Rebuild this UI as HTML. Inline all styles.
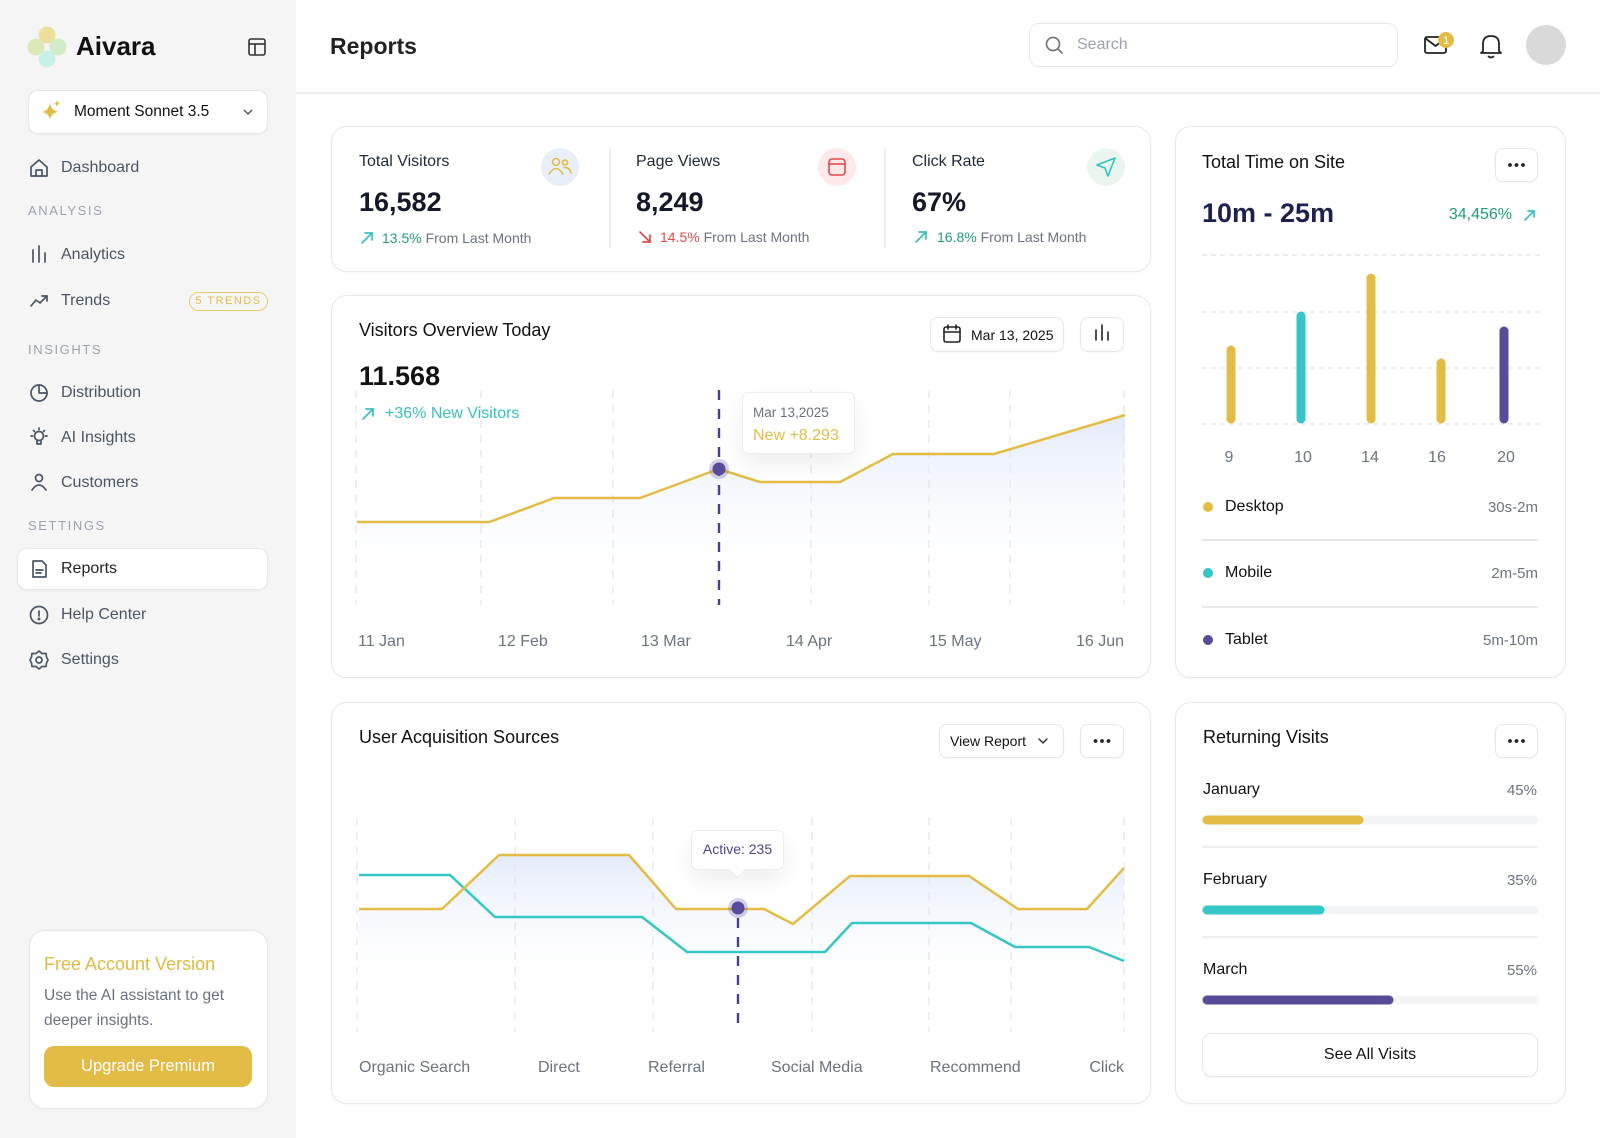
<!DOCTYPE html>
<html><head><meta charset="utf-8">
<style>
*{box-sizing:border-box;margin:0;padding:0}
html,body{width:1600px;height:1138px;overflow:hidden;background:#fff;font-family:"Liberation Sans",Arial,sans-serif;color:#111}
.a{position:absolute}
.t{position:absolute;white-space:nowrap;line-height:20px;z-index:3}
.card{position:absolute;background:#fff;border:1.5px solid #e7e7ea;border-radius:16px;z-index:1;box-shadow:0 1px 3px rgba(0,0,0,0.03)}
.btn{position:absolute;background:#fff;border:1.5px solid #e6e6ea;border-radius:8px;z-index:1;box-shadow:0 1px 2px rgba(0,0,0,0.04)}
.nav{font-size:16px;color:#4b5563}
.sec{font-size:13px;color:#9ca3af;letter-spacing:1.6px}
.xl{font-size:16px;color:#6b7280}
.dv{position:absolute;height:1.5px;z-index:3}
</style></head><body>

<!-- sidebar -->
<div class="a" style="left:0;top:0;width:296px;height:1138px;background:#f5f5f5"></div>
<div class="a" style="left:296px;top:92px;width:1304px;height:1.5px;background:#ececec"></div>

<div class="t" style="left:76px;top:31px;line-height:30px;font-size:26px;font-weight:bold;color:#111">Aivara</div>
<div class="btn" style="left:28px;top:90px;width:240px;height:44px;border-radius:10px;border-color:#e6e6e6"></div>
<div class="t" style="left:74px;top:102px;font-size:15.5px;color:#111">Moment Sonnet 3.5</div>

<div class="t nav" style="left:61px;top:158px">Dashboard</div>
<div class="t sec" style="left:28px;top:201px">ANALYSIS</div>
<div class="t nav" style="left:61px;top:245px">Analytics</div>
<div class="t nav" style="left:61px;top:291px">Trends</div>
<div class="a" style="left:189px;top:292px;width:79px;height:19px;border:1.5px solid #e8cc72;border-radius:10px"></div>
<div class="t" style="left:189px;top:292px;width:79px;line-height:19px;text-align:center;font-size:11px;letter-spacing:1.5px;color:#e3bc45">5 TRENDS</div>
<div class="t sec" style="left:28px;top:340px">INSIGHTS</div>
<div class="t nav" style="left:61px;top:383px">Distribution</div>
<div class="t nav" style="left:61px;top:428px">AI Insights</div>
<div class="t nav" style="left:61px;top:473px">Customers</div>
<div class="t sec" style="left:28px;top:516px">SETTINGS</div>
<div class="btn" style="left:17px;top:548px;width:251px;height:42px;border-radius:10px;border-color:#e8e8e8"></div>
<div class="t nav" style="left:61px;top:559px;color:#222">Reports</div>
<div class="t nav" style="left:61px;top:605px">Help Center</div>
<div class="t nav" style="left:61px;top:650px">Settings</div>

<div class="card" style="left:29px;top:930px;width:239px;height:179px"></div>
<div class="t" style="left:44px;top:953px;line-height:22px;font-size:18px;color:#e0b942">Free Account Version</div>
<div class="t" style="left:44px;top:986px;font-size:15.5px;color:#6b7280">Use the AI assistant to get</div>
<div class="t" style="left:44px;top:1011px;font-size:15.5px;color:#6b7280">deeper insights.</div>
<div class="a" style="left:44px;top:1046px;width:208px;height:41px;background:#e3bc45;border-radius:10px;z-index:2"></div>
<div class="t" style="left:44px;top:1046px;width:208px;line-height:41px;text-align:center;font-size:16.5px;color:#fff">Upgrade Premium</div>

<!-- header -->
<div class="t" style="left:330px;top:32px;line-height:28px;font-size:23px;font-weight:bold;color:#222">Reports</div>
<div class="btn" style="left:1029px;top:23px;width:369px;height:44px;border-radius:10px;box-shadow:none"></div>
<div class="t" style="left:1077px;top:35px;font-size:16px;color:#9ca3af">Search</div>

<!-- stats card -->
<div class="card" style="left:331px;top:126px;width:820px;height:146px"></div>
<div class="t" style="left:359px;top:152px;font-size:16px;color:#1f2937">Total Visitors</div>
<div class="t" style="left:359px;top:186px;line-height:32px;font-size:27px;font-weight:bold;color:#141828">16,582</div>
<div class="t" style="left:382px;top:228px;font-size:14px;color:#6b7280"><span style="color:#1f9d74">13.5%</span> From Last Month</div>
<div class="t" style="left:636px;top:152px;font-size:16px;color:#1f2937">Page Views</div>
<div class="t" style="left:636px;top:186px;line-height:32px;font-size:27px;font-weight:bold;color:#141828">8,249</div>
<div class="t" style="left:660px;top:227px;font-size:14px;color:#6b7280"><span style="color:#e5484d">14.5%</span> From Last Month</div>
<div class="t" style="left:912px;top:152px;font-size:16px;color:#1f2937">Click Rate</div>
<div class="t" style="left:912px;top:186px;line-height:32px;font-size:27px;font-weight:bold;color:#141828">67%</div>
<div class="t" style="left:937px;top:227px;font-size:14px;color:#6b7280"><span style="color:#1f9d74">16.8%</span> From Last Month</div>
<div class="dv" style="left:609px;top:148px;width:1.5px;height:100px;background:#eeeeee"></div>
<div class="dv" style="left:884px;top:148px;width:1.5px;height:100px;background:#eeeeee"></div>

<!-- total time card -->
<div class="card" style="left:1175px;top:126px;width:391px;height:552px"></div>
<div class="t" style="left:1202px;top:151px;line-height:22px;font-size:18px;color:#111">Total Time on Site</div>
<div class="btn" style="left:1495px;top:148px;width:43px;height:34px"></div>
<div class="t" style="left:1202px;top:197px;line-height:32px;font-size:27px;font-weight:bold;color:#1e2150">10m - 25m</div>
<div class="t" style="right:88px;top:205px;font-size:16px;color:#1f9d74">34,456%</div>
<div class="t xl" style="left:1219px;top:448px;width:20px;text-align:center">9</div>
<div class="t xl" style="left:1288px;top:448px;width:30px;text-align:center">10</div>
<div class="t xl" style="left:1355px;top:448px;width:30px;text-align:center">14</div>
<div class="t xl" style="left:1422px;top:448px;width:30px;text-align:center">16</div>
<div class="t xl" style="left:1491px;top:448px;width:30px;text-align:center">20</div>
<div class="t" style="left:1225px;top:497px;font-size:16px;color:#111">Desktop</div>
<div class="t" style="right:62px;top:498px;font-size:15px;color:#6b7280">30s-2m</div>
<div class="dv" style="left:1202px;top:539px;width:336px;background:#e9e9e9"></div>
<div class="t" style="left:1225px;top:563px;font-size:16px;color:#111">Mobile</div>
<div class="t" style="right:62px;top:564px;font-size:15px;color:#6b7280">2m-5m</div>
<div class="dv" style="left:1202px;top:606px;width:336px;background:#e9e9e9"></div>
<div class="t" style="left:1225px;top:630px;font-size:16px;color:#111">Tablet</div>
<div class="t" style="right:62px;top:631px;font-size:15px;color:#6b7280">5m-10m</div>

<!-- visitors overview -->
<div class="card" style="left:331px;top:295px;width:820px;height:383px"></div>
<div class="t" style="left:359px;top:319px;line-height:22px;font-size:18px;color:#111">Visitors Overview Today</div>
<div class="t" style="left:359px;top:360px;line-height:32px;font-size:27px;font-weight:bold;color:#111">11.568</div>
<div class="t" style="left:385px;top:404px;font-size:16px;color:#35c1bd">+36% New Visitors</div>
<div class="btn" style="left:930px;top:317px;width:134px;height:35px"></div>
<div class="t" style="left:971px;top:325px;font-size:14px;color:#111">Mar 13, 2025</div>
<div class="btn" style="left:1080px;top:317px;width:44px;height:35px"></div>
<div class="a" style="left:742px;top:392px;width:113px;height:62px;background:#fff;border:1.5px solid #ececec;border-radius:6px;box-shadow:0 10px 24px rgba(0,0,0,0.07);z-index:3"></div>
<div class="t" style="left:753px;top:403px;font-size:13.5px;color:#6b7280">Mar 13,2025</div>
<div class="t" style="left:753px;top:426px;font-size:16px;color:#e3bc45">New +8.293</div>
<div class="t xl" style="left:358px;top:632px">11 Jan</div>
<div class="t xl" style="left:498px;top:632px">12 Feb</div>
<div class="t xl" style="left:641px;top:632px">13 Mar</div>
<div class="t xl" style="left:786px;top:632px">14 Apr</div>
<div class="t xl" style="left:929px;top:632px">15 May</div>
<div class="t xl" style="right:476px;top:632px">16 Jun</div>

<!-- acquisition -->
<div class="card" style="left:331px;top:702px;width:820px;height:402px"></div>
<div class="t" style="left:359px;top:726px;line-height:22px;font-size:18px;color:#111">User Acquisition Sources</div>
<div class="btn" style="left:939px;top:724px;width:125px;height:34px"></div>
<div class="t" style="left:950px;top:731px;font-size:14px;color:#111">View Report</div>
<div class="btn" style="left:1080px;top:724px;width:44px;height:34px"></div>
<div class="a" style="left:691px;top:830px;width:93px;height:40px;background:#fff;border:1.5px solid #ececec;border-radius:6px;box-shadow:0 10px 24px rgba(0,0,0,0.07);z-index:3"></div>
<div class="a" style="left:732px;top:865px;width:11px;height:11px;background:#fff;transform:rotate(45deg);border-right:1.5px solid #ececec;border-bottom:1.5px solid #ececec;z-index:3"></div>
<div class="t" style="left:691px;top:839px;width:93px;text-align:center;font-size:14px;color:#4a4585">Active: 235</div>
<div class="t xl" style="left:359px;top:1058px">Organic Search</div>
<div class="t xl" style="left:538px;top:1058px">Direct</div>
<div class="t xl" style="left:648px;top:1058px">Referral</div>
<div class="t xl" style="left:771px;top:1058px">Social Media</div>
<div class="t xl" style="left:930px;top:1058px">Recommend</div>
<div class="t xl" style="right:476px;top:1058px">Click</div>

<!-- returning -->
<div class="card" style="left:1175px;top:702px;width:391px;height:402px"></div>
<div class="t" style="left:1203px;top:726px;line-height:22px;font-size:18px;color:#111">Returning Visits</div>
<div class="btn" style="left:1495px;top:724px;width:43px;height:34px"></div>
<div class="t" style="left:1203px;top:780px;font-size:16px;color:#111">January</div>
<div class="t" style="right:63px;top:781px;font-size:15px;color:#6b7280">45%</div>
<div class="dv" style="left:1202px;top:846px;width:336px;background:#eeeeee"></div>
<div class="t" style="left:1203px;top:870px;font-size:16px;color:#111">February</div>
<div class="t" style="right:63px;top:871px;font-size:15px;color:#6b7280">35%</div>
<div class="dv" style="left:1202px;top:936px;width:336px;background:#eeeeee"></div>
<div class="t" style="left:1203px;top:960px;font-size:16px;color:#111">March</div>
<div class="t" style="right:63px;top:961px;font-size:15px;color:#6b7280">55%</div>
<div class="btn" style="left:1202px;top:1033px;width:336px;height:44px;border-radius:10px"></div>
<div class="t" style="left:1202px;top:1045px;width:336px;text-align:center;font-size:16px;color:#111">See All Visits</div>

<svg class="a" style="left:0;top:0;z-index:2" width="1600" height="1138" viewBox="0 0 1600 1138" xmlns="http://www.w3.org/2000/svg">
<defs>
<linearGradient id="g1" x1="0" y1="415" x2="0" y2="600" gradientUnits="userSpaceOnUse">
<stop offset="0" stop-color="#dbe4f6" stop-opacity="0.75"/><stop offset="1" stop-color="#ffffff" stop-opacity="0"/></linearGradient>
<linearGradient id="g2" x1="0" y1="855" x2="0" y2="1000" gradientUnits="userSpaceOnUse">
<stop offset="0" stop-color="#dbe4f6" stop-opacity="0.75"/><stop offset="1" stop-color="#ffffff" stop-opacity="0"/></linearGradient>
</defs>
<!-- logo -->
<circle cx="47" cy="35" r="8.5" fill="#ecdf9a"/>
<circle cx="36" cy="47" r="8.5" fill="#dbe9b9"/>
<circle cx="58" cy="47" r="8.5" fill="#d3ebc8"/>
<circle cx="47" cy="59" r="8.5" fill="#c9f0e6"/>
<g fill="none" stroke="#333" stroke-width="1.6">
<rect x="249" y="39" width="16" height="16" rx="2"/><line x1="249" y1="44" x2="265" y2="44"/><line x1="255" y1="44" x2="255" y2="55"/>
</g>
<path d="M50,103 Q51,110 58,112 Q51,113 50,120 Q49,113 42,112 Q49,110 50,103Z" fill="#e3bc45"/>
<path d="M57,100 Q57.5,103 60,103.5 Q57.5,104 57,107 Q56.5,104 54,103.5 Q56.5,103 57,100Z" fill="#e3bc45"/>
<polyline points="244,110 248,114 252,110" fill="none" stroke="#555" stroke-width="1.5"/>
<!-- nav icons -->
<g fill="none" stroke="#4b5563" stroke-width="1.7" stroke-linecap="round" stroke-linejoin="round">
<path d="M31,167 L39,160 L47,167 V176 H31 Z"/><path d="M36,176 V170 H42 V176"/>
<line x1="33" y1="250" x2="33" y2="262"/><line x1="39" y1="246" x2="39" y2="262"/><line x1="45" y1="253" x2="45" y2="262"/>
<polyline points="31,306 36,300 40,303 47,296"/><polyline points="42,296 47,296 47,301"/>
<circle cx="39" cy="393" r="8"/><polyline points="39,385 39,393 47,393"/>
<circle cx="39" cy="436" r="4.5"/><path d="M37,441 V444 H41 V441"/><line x1="39" y1="428" x2="39" y2="429.5"/><line x1="31" y1="436" x2="32.5" y2="436"/><line x1="45.5" y1="436" x2="47" y2="436"/><line x1="33.5" y1="430.5" x2="34.5" y2="431.5"/><line x1="44.5" y1="430.5" x2="43.5" y2="431.5"/>
<circle cx="39" cy="478" r="3.5"/><path d="M32,490 Q39,480 46,490"/>
<path d="M33,561 H42 L46,565 V577 H33 Z"/><line x1="36" y1="570" x2="43" y2="570"/><line x1="36" y1="573" x2="41" y2="573"/>
<circle cx="39" cy="615" r="8.5"/><line x1="39" y1="611" x2="39" y2="616"/><circle cx="39" cy="619" r="0.6"/>
<circle cx="39" cy="660" r="3"/><path d="M39,651 L42,653.5 L46,653.5 L46.5,657 L48,660 L46.5,663 L46,666.5 L42,666.5 L39,669 L36,666.5 L32,666.5 L31.5,663 L30,660 L31.5,657 L32,653.5 L36,653.5 Z"/>
</g>
<!-- header icons -->
<g fill="none" stroke="#777" stroke-width="1.7" stroke-linecap="round"><circle cx="1053" cy="44" r="6.5"/><line x1="1058" y1="49" x2="1062" y2="53"/></g>
<g fill="none" stroke="#222" stroke-width="1.8" stroke-linejoin="round">
<rect x="1425" y="37" width="21" height="16" rx="2"/><polyline points="1425,38 1435.5,46 1446,38"/>
<path d="M1483,51 V44 Q1483,36 1491,36 Q1499,36 1499,44 V51 L1501,53 H1481 Z"/><path d="M1488,56 Q1491,59 1494,56"/>
</g>
<circle cx="1446" cy="40" r="8" fill="#e3bc45"/>
<text x="1446" y="44" font-size="11" fill="#fff" text-anchor="middle" font-family="Liberation Sans">1</text>
<circle cx="1546" cy="45" r="20" fill="#d9d9d9"/>
<!-- stats icons -->
<circle cx="560" cy="167" r="19" fill="#e9eff9"/>
<g fill="none" stroke="#e3bc45" stroke-width="1.6" stroke-linecap="round"><circle cx="556" cy="162" r="3.5"/><path d="M549,174 Q556,163 563,174"/><circle cx="565" cy="162.5" r="2.5"/><path d="M564,167.5 Q569.5,167 571,173"/></g>
<circle cx="837" cy="167" r="19" fill="#fde9e9"/>
<g fill="none" stroke="#e5484d" stroke-width="1.6"><rect x="829" y="159" width="16" height="16" rx="3"/><line x1="829" y1="164" x2="845" y2="164"/></g>
<circle cx="1106" cy="167" r="19" fill="#e9f6ef"/>
<path d="M1115,158 L1097,165 L1105,168 L1108,176 Z" fill="none" stroke="#35c1bd" stroke-width="1.6" stroke-linejoin="round"/>
<g fill="none" stroke-width="1.7" stroke-linecap="round">
<g stroke="#35c1bd"><line x1="362" y1="243" x2="372" y2="233"/><polyline points="365,233 372,233 372,240"/>
<line x1="916" y1="242" x2="926" y2="232"/><polyline points="919,232 926,232 926,239"/>
<line x1="363" y1="419" x2="373" y2="409"/><polyline points="366,409 373,409 373,416"/>
<line x1="1525" y1="220" x2="1534" y2="211"/><polyline points="1528,211 1534,211 1534,217"/></g>
<g stroke="#e5484d"><line x1="640" y1="232" x2="650" y2="242"/><polyline points="650,235 650,242 643,242"/></g>
</g>
<!-- button icons -->
<g fill="none" stroke="#222" stroke-width="1.6" stroke-linecap="round">
<rect x="944" y="327" width="16" height="15" rx="2"/><line x1="944" y1="332" x2="960" y2="332"/><line x1="948" y1="325" x2="948" y2="329"/><line x1="956" y1="325" x2="956" y2="329"/>
<line x1="1096" y1="330" x2="1096" y2="340"/><line x1="1102" y1="325" x2="1102" y2="340"/><line x1="1108" y1="332" x2="1108" y2="340"/>
<polyline points="1039,739 1043,743 1047,739" stroke-width="1.3"/>
</g>
<g fill="#222"><circle cx="1510" cy="165" r="1.9"/><circle cx="1516.5" cy="165" r="1.9"/><circle cx="1523" cy="165" r="1.9"/>
<circle cx="1095.5" cy="741" r="1.9"/><circle cx="1102" cy="741" r="1.9"/><circle cx="1108.5" cy="741" r="1.9"/>
<circle cx="1510" cy="741" r="1.9"/><circle cx="1516.5" cy="741" r="1.9"/><circle cx="1523" cy="741" r="1.9"/></g>
<!-- total time chart -->
<g stroke="#e2e2e2" stroke-width="1.2" stroke-dasharray="5 4">
<line x1="1202" y1="255" x2="1540" y2="255"/><line x1="1202" y1="312" x2="1540" y2="312"/><line x1="1202" y1="368" x2="1540" y2="368"/><line x1="1202" y1="424" x2="1540" y2="424"/></g>
<g stroke-width="9" stroke-linecap="round">
<line x1="1231" y1="350" x2="1231" y2="419" stroke="#e3bc45"/>
<line x1="1301" y1="316" x2="1301" y2="419" stroke="#35c6c6"/>
<line x1="1371" y1="278" x2="1371" y2="419" stroke="#e3bc45"/>
<line x1="1441" y1="363" x2="1441" y2="419" stroke="#e3bc45"/>
<line x1="1504" y1="331" x2="1504" y2="419" stroke="#574b9a"/>
</g>
<circle cx="1208" cy="507" r="5" fill="#e3bc45"/><circle cx="1208" cy="573" r="5" fill="#35c6c6"/><circle cx="1208" cy="640" r="5" fill="#574b9a"/>
<!-- returning bars -->
<g stroke-width="9" stroke-linecap="round">
<line x1="1207" y1="820" x2="1534" y2="820" stroke="#f3f4f6"/><line x1="1207" y1="820" x2="1359" y2="820" stroke="#e3bc45"/>
<line x1="1207" y1="910" x2="1534" y2="910" stroke="#f3f4f6"/><line x1="1207" y1="910" x2="1320" y2="910" stroke="#35c6c6"/>
<line x1="1207" y1="1000" x2="1534" y2="1000" stroke="#f3f4f6"/><line x1="1207" y1="1000" x2="1389" y2="1000" stroke="#574b9a"/>
</g>
<!-- visitors chart -->
<path d="M357,522 L489.5,522 L554,498 L640,498 L718.6,469 L760,482 L840,482 L893,454 L994,454 L1125,415 L1125,605 L357,605 Z" fill="url(#g1)"/>
<g stroke="#e4e4e7" stroke-width="1.2" stroke-dasharray="8 7">
<line x1="356" y1="390" x2="356" y2="605"/><line x1="481" y1="390" x2="481" y2="605"/><line x1="613" y1="390" x2="613" y2="605"/><line x1="811" y1="390" x2="811" y2="605"/><line x1="929" y1="390" x2="929" y2="605"/><line x1="1010" y1="390" x2="1010" y2="605"/><line x1="1124" y1="390" x2="1124" y2="605"/></g>
<line x1="719" y1="390" x2="719" y2="605" stroke="#4a3f8f" stroke-width="2.4" stroke-dasharray="10 9"/>
<polyline points="357,522 489.5,522 554,498 640,498 718.6,469 760,482 840,482 893,454 994,454 1125,415" fill="none" stroke="#e3bc45" stroke-width="2.5" stroke-linejoin="round"/>
<circle cx="719" cy="469" r="10" fill="#574b9a" opacity="0.25"/><circle cx="719" cy="469" r="6.5" fill="#574b9a"/>
<!-- acquisition chart -->
<path d="M359,909 L442,909 L499,855 L629,855 L676,909 L764,909 L793,924 L850,876 L969,876 L1018,909 L1087,909 L1124,868 L1124,1030 L359,1030 Z" fill="url(#g2)"/>
<g stroke="#e4e4e7" stroke-width="1.2" stroke-dasharray="8 7">
<line x1="357" y1="817" x2="357" y2="1032"/><line x1="515" y1="817" x2="515" y2="1032"/><line x1="653" y1="817" x2="653" y2="1032"/><line x1="812" y1="817" x2="812" y2="1032"/><line x1="929" y1="817" x2="929" y2="1032"/><line x1="1011" y1="817" x2="1011" y2="1032"/><line x1="1124" y1="817" x2="1124" y2="1032"/></g>
<line x1="738" y1="918" x2="738" y2="1031" stroke="#4a3f8f" stroke-width="2.4" stroke-dasharray="10 9"/>
<polyline points="359,875 450,875 495,917 642,917 687,952 825,952 852,923 971,923 1015,947 1089,947 1124,961" fill="none" stroke="#35c6c6" stroke-width="2.5" stroke-linejoin="round"/>
<polyline points="359,909 442,909 499,855 629,855 676,909 764,909 793,924 850,876 969,876 1018,909 1087,909 1124,868" fill="none" stroke="#e3bc45" stroke-width="2.5" stroke-linejoin="round"/>
<circle cx="738" cy="908" r="10" fill="#574b9a" opacity="0.25"/><circle cx="738" cy="908" r="6.5" fill="#574b9a"/>
</svg>
</body></html>
